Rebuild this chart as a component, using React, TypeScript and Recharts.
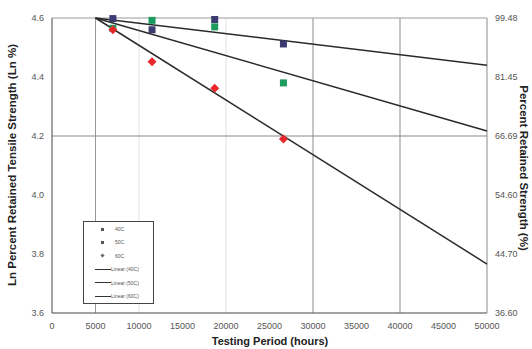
import { ScatterChart, Scatter, XAxis, YAxis, CartesianGrid, ReferenceLine } from 'recharts';

// testing period (hours) for each measurement
const hours = [7000, 11500, 18700, 26600];
// ln of percent retained tensile strength
const ln40C = [4.598, 4.56, 4.595, 4.512];
const ln50C = [4.565, 4.592, 4.57, 4.38];
const ln60C = [4.56, 4.452, 4.362, 4.19];

// trend line end points
const trendHours = [5000, 50000];
const trend40C = [4.6, 4.44];
const trend50C = [4.6, 4.217];
const trend60C = [4.6, 3.766];

const xTicks = [0, 5000, 10000, 15000, 20000, 25000, 30000, 35000, 40000, 45000, 50000];
const yTicks = [3.6, 3.8, 4.0, 4.2, 4.4, 4.6];
const rightTickLabels = ['36.60', '44.70', '54.60', '66.69', '81.45', '99.48'];

const series = [
    { name: '40C', values: ln40C, color: '#3b3b72', shape: 'square' },
    { name: '50C', values: ln50C, color: '#1c9b5c', shape: 'square' },
    { name: '60C', values: ln60C, color: '#e8282c', shape: 'diamond' },
];

const trends = [
    { name: 'Linear (40C)', values: trend40C, width: 1 },
    { name: 'Linear (50C)', values: trend50C, width: 1.8 },
    { name: 'Linear (60C)', values: trend60C, width: 1 },
];

const toPoints = (xs: number[], ys: number[]) => xs.map((x, i) => ({ x, y: ys[i] }));

const Square = ({ cx, cy, fill }: any) => (
    <rect x={cx - 3.5} y={cy - 3.5} width={7} height={7} fill={fill} />
);

const Diamond = ({ cx, cy, fill }: any) => (
    <polygon points={`${cx},${cy - 4.5} ${cx + 4.5},${cy} ${cx},${cy + 4.5} ${cx - 4.5},${cy}`} fill={fill} />
);

const tickStyle = { fill: '#555', fontSize: 9, fontFamily: 'Liberation Sans, Arial, sans-serif' };
const font = 'Liberation Sans, Arial, sans-serif';

function LegendBox() {
    const rows = [
        ...series.map((s) => ({ label: s.name, kind: s.shape, width: 1 })),
        ...trends.map((t) => ({ label: t.name, kind: 'line', width: t.width })),
    ];
    return (
        <div
            style={{
                position: 'absolute',
                left: 83,
                top: 221,
                width: 69,
                height: 81,
                border: '1px solid #444',
                background: '#fff',
                fontFamily: font,
                fontSize: 5,
                color: '#555',
            }}
        >
            {rows.map((r, i) => (
                <div key={r.label} style={{ position: 'absolute', top: 3 + i * 13.4, left: 10, height: 8, display: 'flex', alignItems: 'center' }}>
                    <div style={{ width: 17, display: 'flex', justifyContent: 'center' }}>
                        {r.kind === 'line' ? (
                            <div style={{ width: 16, height: r.width, background: '#333' }} />
                        ) : r.kind === 'diamond' ? (
                            <div style={{ width: 3, height: 3, background: '#666', transform: 'rotate(45deg)' }} />
                        ) : (
                            <div style={{ width: 3, height: 3, background: '#555' }} />
                        )}
                    </div>
                    <span style={{ marginLeft: r.kind === 'line' ? 0 : 4 }}>{r.label}</span>
                </div>
            ))}
        </div>
    );
}

export default function App() {
    return (
        <div style={{ position: 'absolute', left: 0, top: 0, width: 532, height: 349, background: '#fff' }}>
            <ScatterChart width={532} height={349} margin={{ top: 18, right: 15, bottom: 16, left: 16 }}>
                <CartesianGrid stroke="#e2e2e2" strokeWidth={1} />
                <ReferenceLine yAxisId="left" x={5000} stroke="#999" />
                <ReferenceLine yAxisId="left" x={30000} stroke="#999" />
                <ReferenceLine yAxisId="left" x={40000} stroke="#999" />
                <ReferenceLine yAxisId="left" y={4.2} stroke="#888" />
                <ReferenceLine yAxisId="left" y={4.6} stroke="#aaa" />
                <XAxis
                    type="number"
                    dataKey="x"
                    domain={[0, 50000]}
                    ticks={xTicks}
                    height={20}
                    tick={tickStyle}
                    tickLine={false}
                    axisLine={{ stroke: '#555' }}
                    tickMargin={4}
                />
                <YAxis
                    yAxisId="left"
                    type="number"
                    dataKey="y"
                    domain={[3.6, 4.6]}
                    ticks={yTicks}
                    tickFormatter={(v: number) => v.toFixed(1)}
                    width={36}
                    tick={tickStyle}
                    tickLine={false}
                    axisLine={{ stroke: '#555' }}
                />
                <YAxis
                    yAxisId="right"
                    orientation="right"
                    type="number"
                    dataKey="y"
                    domain={[3.6, 4.6]}
                    ticks={yTicks}
                    tickFormatter={(v: number, i: number) => rightTickLabels[i]}
                    width={30}
                    tick={tickStyle}
                    tickLine={false}
                    axisLine={{ stroke: '#999' }}
                    allowDataOverflow
                />
                {trends.map((t) => (
                    <Scatter
                        key={t.name}
                        yAxisId="left"
                        name={t.name}
                        data={toPoints(trendHours, t.values)}
                        line={{ stroke: '#2a2a2a', strokeWidth: 1.5 }}
                        shape={() => null}
                        isAnimationActive={false}
                    />
                ))}
                {series.map((s) => (
                    <Scatter
                        key={s.name}
                        yAxisId="left"
                        name={s.name}
                        data={toPoints(hours, s.values)}
                        fill={s.color}
                        shape={s.shape === 'diamond' ? <Diamond /> : <Square />}
                        isAnimationActive={false}
                    />
                ))}
            </ScatterChart>
            <LegendBox />
            <div
                style={{
                    position: 'absolute',
                    left: 12,
                    top: 165,
                    transform: 'translate(-50%, -50%) rotate(-90deg)',
                    whiteSpace: 'nowrap',
                    fontFamily: font,
                    fontWeight: 'bold',
                    fontSize: 11.5,
                    color: '#222',
                }}
            >
                Ln Percent Retained Tensile Strength (Ln %)
            </div>
            <div
                style={{
                    position: 'absolute',
                    left: 524,
                    top: 168,
                    transform: 'translate(-50%, -50%) rotate(90deg)',
                    whiteSpace: 'nowrap',
                    fontFamily: font,
                    fontWeight: 'bold',
                    fontSize: 11.5,
                    color: '#222',
                }}
            >
                Percent Retained Strength (%)
            </div>
            <div
                style={{
                    position: 'absolute',
                    left: 270,
                    top: 341,
                    transform: 'translate(-50%, -50%)',
                    whiteSpace: 'nowrap',
                    fontFamily: font,
                    fontWeight: 'bold',
                    fontSize: 11,
                    color: '#222',
                }}
            >
                Testing Period (hours)
            </div>
        </div>
    );
}
